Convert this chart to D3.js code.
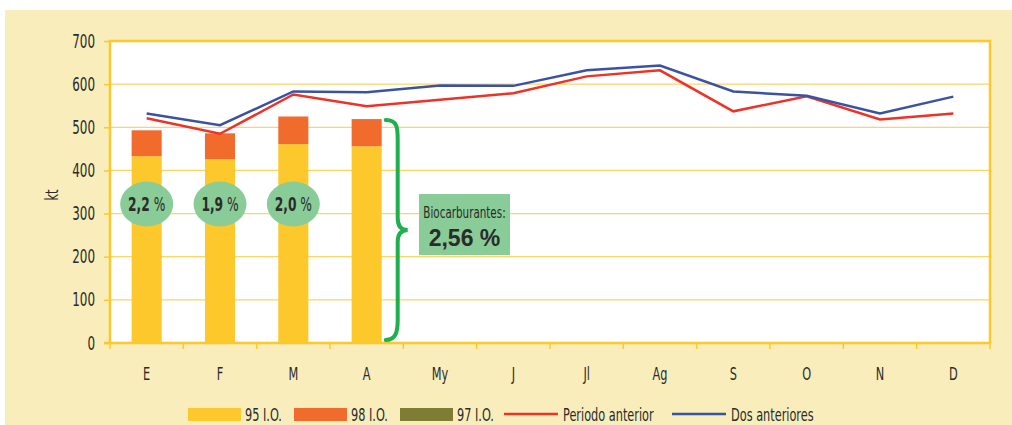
<!DOCTYPE html>
<html>
<head>
  <script src="https://d3js.org/d3.v7.min.js"></script>
  <style>
    body { margin: 0; background: #fff; overflow: hidden; }
    text { font-family: "DejaVu Sans Condensed", "DejaVu Sans", sans-serif; fill: #2b2b2b; }
  </style>
</head>
<body>
  <script>
    const months = ["E", "F", "M", "A", "My", "J", "Jl", "Ag", "S", "O", "N", "D"];
    const io95 = [433, 426, 461, 456];
    const io98 = [60, 60, 64, 63];
    const io97 = [0, 0, 0, 0];
    const periodoAnterior = [521, 485, 576, 549, 564, 579, 618, 632, 537, 572, 518, 532];
    const dosAnteriores = [532, 505, 583, 581, 597, 596, 632, 643, 583, 573, 532, 571];
    const bioMonthly = ["2,2", "1,9", "2,0"];
    const bioTotal = "2,56 %";
    const yTicks = [0, 100, 200, 300, 400, 500, 600, 700];

    const width = 1012, height = 425;
    const margin = { top: 41, right: 22, bottom: 82, left: 110 };
    const SX = 0.7; // horizontal squeeze for the condensed look

    const svg = d3.select("body").append("svg")
      .attr("width", width)
      .attr("height", height);

    // text placed at (x,y), squeezed horizontally around its anchor
    function narrowText(parent, x, y, str, size, sx, anchor) {
      return parent.append("text")
        .attr("transform", `translate(${x},${y}) scale(${sx},1)`)
        .attr("text-anchor", anchor || "middle")
        .attr("font-size", size)
        .text(str);
    }

    svg.append("rect")
      .attr("x", 5).attr("y", 10)
      .attr("width", width - 5).attr("height", height - 10)
      .attr("fill", "#f9edbb");

    const x = d3.scaleBand()
      .domain(months)
      .range([margin.left, width - margin.right])
      .paddingInner(0.59)
      .paddingOuter(0.295);

    const y = d3.scaleLinear()
      .domain([0, 700])
      .range([height - margin.bottom, margin.top]);

    const x0 = margin.left, x1 = width - margin.right;

    svg.append("rect")
      .attr("x", x0).attr("y", y(700))
      .attr("width", x1 - x0).attr("height", y(0) - y(700))
      .attr("fill", "#fff");

    svg.append("g")
      .selectAll("line")
      .data(yTicks.slice(1, -1))
      .join("line")
      .attr("x1", x0).attr("x2", x1)
      .attr("y1", d => y(d)).attr("y2", d => y(d))
      .attr("stroke", "#fbd667")
      .attr("stroke-width", 1.2);

    // y axis
    const yAxis = svg.append("g")
      .attr("transform", `translate(${x0},0)`)
      .call(d3.axisLeft(y).tickValues(yTicks).tickSize(6).tickPadding(0));
    yAxis.select(".domain").remove();
    yAxis.selectAll("line").attr("stroke", "#fcc82a").attr("stroke-width", 1.5);
    yAxis.selectAll("text")
      .attr("x", null)
      .attr("transform", `translate(-15,0) scale(${SX},1)`)
      .attr("font-size", 19)
      .attr("fill", "#2b2b2b")
      .style("font-family", "'DejaVu Sans Condensed', sans-serif");

    // x axis ticks at band edges
    const step = x.step();
    const edges = d3.range(months.length + 1).map(i => x0 + i * step);
    svg.append("g")
      .selectAll("line")
      .data(edges)
      .join("line")
      .attr("x1", d => d).attr("x2", d => d)
      .attr("y1", y(0)).attr("y2", y(0) + 6)
      .attr("stroke", "#fcc82a")
      .attr("stroke-width", 1.5);

    const xl = svg.append("g");
    months.forEach(m => narrowText(xl, x(m) + x.bandwidth() / 2, y(0) + 37, m, 18, SX));

    // plot border
    svg.append("path")
      .attr("d", `M${x0},${y(0)}V${y(700)}H${x1}V${y(0)}`)
      .attr("fill", "none")
      .attr("stroke", "#fcc82a")
      .attr("stroke-width", 2.5);

    svg.append("line")
      .attr("x1", x0 - 6).attr("x2", x1)
      .attr("y1", y(0)).attr("y2", y(0))
      .attr("stroke", "#fcc82a")
      .attr("stroke-width", 2.5);

    svg.append("text")
      .attr("transform", `translate(58,${(y(0) + y(700)) / 2 + 3}) rotate(-90) scale(${SX},1)`)
      .attr("text-anchor", "middle")
      .attr("font-size", 18)
      .text("kt");

    // stacked bars
    const barData = io95.map((v, i) => ({ m: months[i], a: v, b: io98[i], c: io97[i] }));
    const stack = d3.stack().keys(["a", "b", "c"])(barData);
    const colors = { a: "#fdc82b", b: "#f06b2c", c: "#7f7d34" };

    svg.append("g")
      .selectAll("g")
      .data(stack)
      .join("g")
      .attr("fill", d => colors[d.key])
      .selectAll("rect")
      .data(d => d)
      .join("rect")
      .attr("x", d => x(d.data.m))
      .attr("width", x.bandwidth())
      .attr("y", d => y(d[1]))
      .attr("height", d => y(d[0]) - y(d[1]));

    // lines
    const line = d3.line()
      .x((d, i) => x(months[i]) + x.bandwidth() / 2)
      .y(d => y(d));

    svg.append("path")
      .datum(periodoAnterior)
      .attr("d", line)
      .attr("fill", "none")
      .attr("stroke", "#ee3226")
      .attr("stroke-width", 2.5);

    svg.append("path")
      .datum(dosAnteriores)
      .attr("d", line)
      .attr("fill", "none")
      .attr("stroke", "#3a52a3")
      .attr("stroke-width", 2.5);

    // monthly biofuel ellipses
    const ell = svg.append("g")
      .selectAll("g")
      .data(bioMonthly)
      .join("g")
      .attr("transform", (d, i) => `translate(${x(months[i]) + x.bandwidth() / 2},${y(322)})`);

    ell.append("ellipse")
      .attr("rx", 26.5).attr("ry", 22.5)
      .attr("fill", "#89cc97");

    const et = ell.append("text")
      .attr("text-anchor", "middle")
      .attr("transform", "translate(0,7) scale(0.68,1)")
      .attr("font-size", 20)
      .attr("fill", "#222");
    et.append("tspan").attr("font-weight", "bold").text(d => d);
    et.append("tspan").text(" %");

    // brace
    const bx = x("A") + x.bandwidth() + 4;
    const yt = y(io95[3] + io98[3]) + 1, yb = y(0) - 3;
    const ym = (yt + yb) / 2;
    svg.append("path")
      .attr("d", `M${bx},${yt} C${bx + 12},${yt} ${bx + 12},${yt + 8} ${bx + 12},${yt + 20}
                  L${bx + 12},${ym - 12} C${bx + 12},${ym - 4} ${bx + 15},${ym} ${bx + 22},${ym}
                  C${bx + 15},${ym} ${bx + 12},${ym + 4} ${bx + 12},${ym + 12}
                  L${bx + 12},${yb - 20} C${bx + 12},${yb - 8} ${bx + 10},${yb} ${bx},${yb}`)
      .attr("fill", "none")
      .attr("stroke", "#1fb04e")
      .attr("stroke-width", 4)
      .attr("stroke-linecap", "round");

    // total box
    const box = svg.append("g").attr("transform", `translate(419,194)`);
    box.append("rect")
      .attr("width", 91).attr("height", 61)
      .attr("fill", "#89cc97");
    narrowText(box, 45.5, 24, "Biocarburantes:", 16, 0.72);
    box.append("text")
      .attr("x", 45.5).attr("y", 52)
      .attr("text-anchor", "middle")
      .attr("font-size", 23)
      .attr("font-weight", "bold")
      .style("font-family", "'Liberation Sans', Arial, sans-serif")
      .text(bioTotal);

    // legend
    const legendItems = [
      { label: "95 I.O.", type: "rect", color: colors.a, x: 188 },
      { label: "98 I.O.", type: "rect", color: colors.b, x: 294 },
      { label: "97 I.O.", type: "rect", color: colors.c, x: 400 },
      { label: "Periodo anterior", type: "line", color: "#ee3226", x: 504 },
      { label: "Dos anteriores", type: "line", color: "#3a52a3", x: 672 }
    ];
    const lg = svg.append("g")
      .selectAll("g")
      .data(legendItems)
      .join("g")
      .attr("transform", d => `translate(${d.x},414)`);

    lg.filter(d => d.type === "rect").append("rect")
      .attr("y", -6).attr("width", 53).attr("height", 13)
      .attr("fill", d => d.color);
    lg.filter(d => d.type === "line").append("line")
      .attr("x1", 0).attr("x2", 54)
      .attr("stroke", d => d.color)
      .attr("stroke-width", 2.5);
    lg.append("text")
      .attr("transform", d => `translate(${d.type === "rect" ? 57 : 59},7) scale(${SX},1)`)
      .attr("font-size", 18)
      .text(d => d.label);
  </script>
</body>
</html>
